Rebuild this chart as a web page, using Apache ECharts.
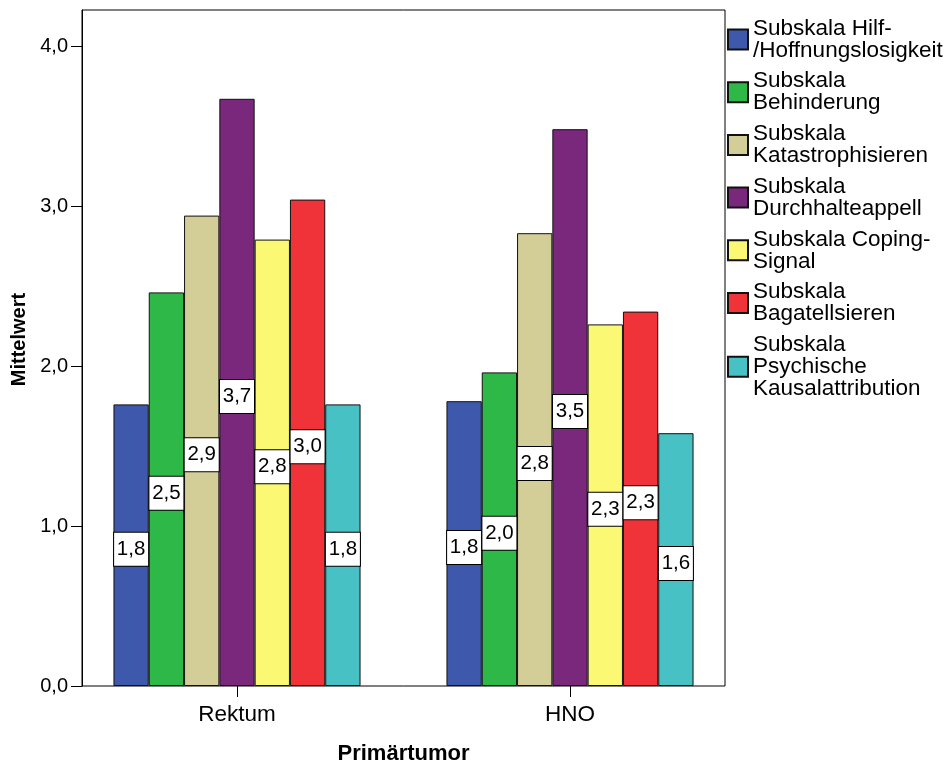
<!DOCTYPE html>
<html>
<head>
<meta charset="utf-8">
<script src="https://cdn.jsdelivr.net/npm/echarts@6/dist/echarts.min.js"></script>
<style>html,body{margin:0;padding:0;background:#fff;}#c{width:950px;height:767px;}</style>
</head>
<body>
<div id="c"></div>
<script>
const categories = ['Rektum', 'HNO'];
const seriesNames = [
  'Subskala Hilf-\n/Hoffnungslosigkeit',
  'Subskala\nBehinderung',
  'Subskala\nKatastrophisieren',
  'Subskala\nDurchhalteappell',
  'Subskala Coping-\nSignal',
  'Subskala\nBagatellsieren',
  'Subskala\nPsychische\nKausalattribution'
];
const hilf = [1.76, 1.78];
const behinderung = [2.46, 1.96];
const katastrophisieren = [2.94, 2.83];
const durchhalteappell = [3.67, 3.48];
const copingSignal = [2.79, 2.26];
const bagatellisieren = [3.04, 2.34];
const kausalattribution = [1.76, 1.58];
const yTicks = [0, 1, 2, 3, 4];

const colors = ['#3E58AC', '#2EB848', '#D3CE98', '#7A287C', '#FBF873', '#EF3338', '#48C1C4'];
const allValues = [hilf, behinderung, katastrophisieren, durchhalteappell, copingSignal, bagatellisieren, kausalattribution];
const FONT = 'Liberation Sans, Arial, sans-serif';
const fmt = v => v.toFixed(1).replace('.', ',');

const chart = echarts.init(document.getElementById('c'), null, {renderer: 'canvas'});
const yMax = 4.225;
chart.setOption({
  backgroundColor: '#fff',
  animation: false,
  textStyle: {fontFamily: FONT, color: '#000'},
  grid: [
    {left: 82, width: 643, top: 10, height: 676, show: true, borderColor: '#000', borderWidth: 1, backgroundColor: 'transparent', outerBoundsMode: 'none', containLabel: false},
    {left: 70.5, width: 666, top: 10, height: 676, outerBoundsMode: 'none', containLabel: false}
  ],
  legend: {
    orient: 'vertical', left: 727, top: 17, padding: 0,
    itemWidth: 20, itemHeight: 20, itemGap: 7.7,
    icon: 'rect',
    textStyle: {fontSize: 22.5, lineHeight: 22, color: '#000', fontFamily: FONT},
    data: seriesNames
  },
  xAxis: [
    {gridIndex: 0, type: 'value', min: 0, max: 1, show: false},
    {gridIndex: 1, type: 'category', data: categories,
     axisLine: {show: false},
     axisTick: {show: true, alignWithLabel: true, length: 11, lineStyle: {color: '#000', width: 1}},
     axisLabel: {fontSize: 22.5, color: '#000', margin: 17, fontFamily: FONT},
     name: 'Primärtumor', nameLocation: 'middle', nameGap: 57,
     nameTextStyle: {fontSize: 22, fontWeight: 'bold', color: '#000', fontFamily: FONT}}
  ],
  yAxis: [
    {gridIndex: 0, type: 'value', min: 0, max: yMax, interval: 1,
     axisLine: {show: true, lineStyle: {color: '#000', width: 1}},
     axisTick: {show: true, length: 11, customValues: yTicks, lineStyle: {color: '#000', width: 1}},
     axisLabel: {fontSize: 20, color: '#000', margin: 14, fontFamily: FONT, customValues: yTicks,
       formatter: v => fmt(v)},
     splitLine: {show: false},
     name: 'Mittelwert', nameLocation: 'middle', nameGap: 53,
     nameTextStyle: {fontSize: 20, fontWeight: 'bold', color: '#000', fontFamily: FONT, padding: [0, 0, 0, 17]}},
    {gridIndex: 1, type: 'value', min: 0, max: yMax, show: false}
  ],
  series: seriesNames.map((name, i) => ({
    name: name,
    type: 'bar',
    xAxisIndex: 1, yAxisIndex: 1,
    data: allValues[i],
    barGap: '0%',
    barCategoryGap: '25.8%',
    itemStyle: {color: colors[i], borderColor: '#111', borderWidth: 1},
    label: {
      show: true, position: 'inside', offset: [0, 4],
      formatter: p => fmt(p.value),
      fontSize: 20.5, color: '#000', fontFamily: FONT,
      backgroundColor: '#fff', borderColor: '#000', borderWidth: 1,
      width: 34, align: 'center', lineHeight: 21, padding: [6, 0]
    }
  }))
});
</script>
</body>
</html>
